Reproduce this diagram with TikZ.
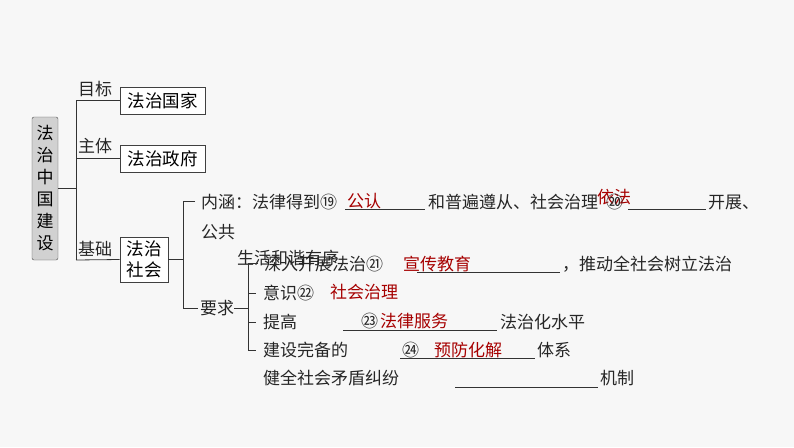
\documentclass[tikz,border=0pt]{standalone}
\usepackage{fontspec}
\setmainfont{Noto Sans CJK SC}
\begin{document}
\begin{tikzpicture}[x=1pt,y=-1pt,
  t/.style={anchor=west,inner sep=0pt,font=\fontsize{17}{19}\selectfont,text=black!85},
  r/.style={t,text=red!65!black},
  ln/.style={draw=black!80,line width=0.8pt},
  bx/.style={draw=black!75,line width=0.8pt,fill=white,font=\fontsize{17.5}{21}\selectfont,inner sep=0pt}]
\fill[black!3] (0,0) rectangle (794,447);
\useasboundingbox (0,0) rectangle (794,447);
% main box
\node[draw=black!70,fill=black!18,rounded corners=2pt,minimum width=26,minimum height=143,inner sep=0pt,font=\fontsize{17}{22}\selectfont,align=center] (root) at (45,188.5) {法\\治\\中\\国\\建\\设};
\node[bx,minimum width=85,minimum height=27] (b1) at (162.5,100.5) {法治国家};
\node[bx,minimum width=85,minimum height=27] (b2) at (162.5,158.5) {法治政府};
\node[bx,minimum width=48,minimum height=45,align=center] (b3) at (144,259.5) {法治\\社会};
\coordinate (j1) at (76,188.5);
\draw[ln] (root.east) -- (j1);
\draw[ln] (76,100.5) -- (76,260) ;
\draw[ln] (76,100.5) -- (b1.west);
\draw[ln] (76,158.5) -- (b2.west);
\draw[ln] (76,260) -- (b3.west);
\node[t] (l1) at (78,89) {目标};
\node[t] (l2) at (78,146) {主体};
\node[t] (l3) at (78,249) {基础};
% second level
\draw[ln] (b3.east) -- (183,259.5);
\draw[ln] (195,201) -- (183,201) -- (183,308) -- (198,308);
\node[t] (nh) at (201,202) {内涵：法律得到⑲};
\node[r] (a19) at (347,201) {公认};
\draw[ln] (345,209) -- (425,209);
\node[t] (nh2) at (428,202) {和普遍遵从、社会治理};
\node[r] (a20) at (597,197) {依法};
\node[t] (c20) at (606,202) {⑳};
\draw[ln] (628,209) -- (706,209);
\node[t] (nh3) at (708,202) {开展、};
\node[t] (gg) at (201,232) {公共};
\node[t] (sh) at (237,258) {生活和谐有序};
\node[t] (yq) at (200,308) {要求};
\draw[ln] (yq.east) -- (248,308);
\draw[ln] (258,263) -- (248,263) -- (248,350) -- (256,350);
\draw[ln] (248,293) -- (256,293);
\draw[ln] (248,322) -- (256,322);
\node[t] (q1) at (264,264) {深入开展法治㉑};
\node[r] (a21) at (403,264) {宣传教育};
\draw[ln] (417,272) -- (560,272);
\node[t] (q1b) at (562,264) {，推动全社会树立法治};
\node[t] (q2) at (263,293) {意识㉒};
\node[r] (a22) at (330,292) {社会治理};
\node[t] (q3) at (263,322) {提高};
\node[t] (c23) at (361,321) {㉓};
\node[r] (a23) at (380,321) {法律服务};
\draw[ln] (343,330) -- (497,330);
\node[t] (q3b) at (500,322) {法治化水平};
\node[t] (q4) at (263,350) {建设完备的};
\node[t] (c24) at (402,350) {㉔};
\node[r] (a24) at (434,350) {预防化解};
\draw[ln] (400,358) -- (535,358);
\node[t] (q4b) at (537,350) {体系};
\node[t] (q5) at (263,378) {健全社会矛盾纠纷};
\draw[ln] (455,387) -- (598,387);
\node[t] (q5b) at (600,378) {机制};
\end{tikzpicture}
\end{document}
